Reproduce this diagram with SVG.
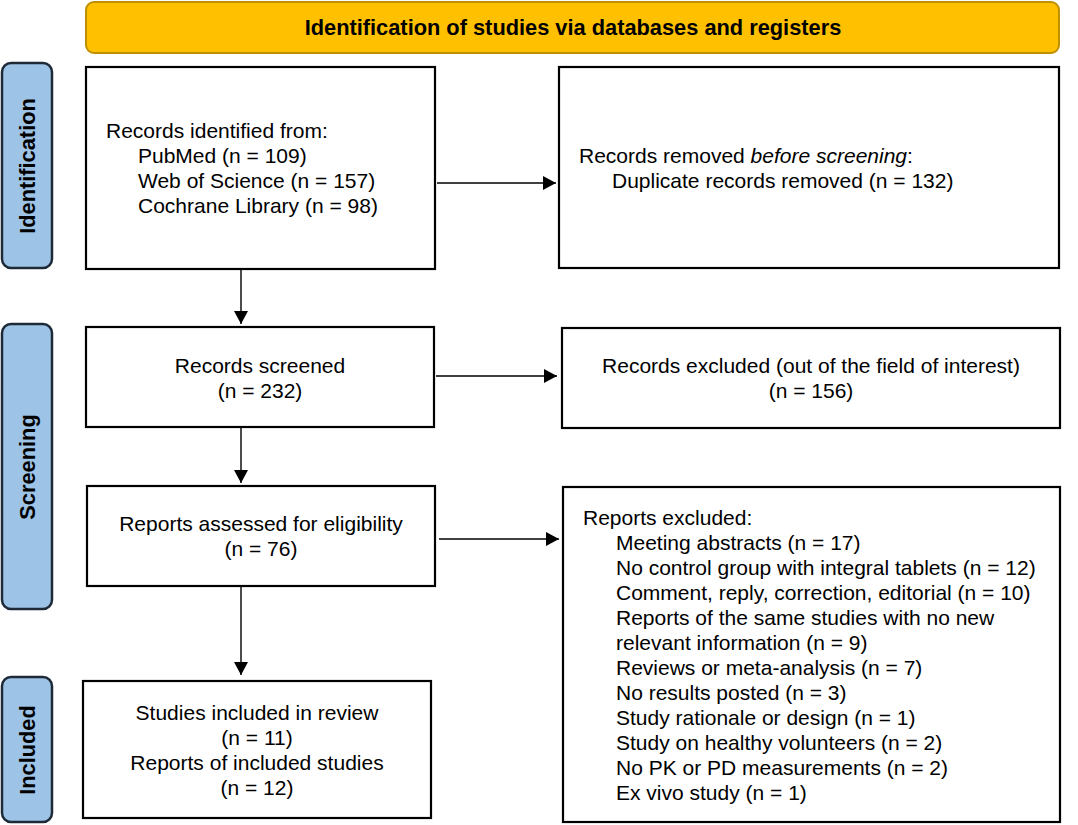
<svg xmlns="http://www.w3.org/2000/svg" width="1078" height="825" viewBox="0 0 1078 825">
<style>
.box{fill:#fff;stroke:#000;stroke-width:2.2}
.t{font-family:"Liberation Sans",Arial,sans-serif;font-size:21px;fill:#000}
.c{text-anchor:middle}
.b{font-weight:bold;font-size:21.8px}
.side{fill:#9DC3E6;stroke:#1E2A38;stroke-width:2.5}
.ban{fill:#FFC000;stroke:#BF9000;stroke-width:2}
.ln{stroke:#000;stroke-width:1.4;fill:none}
</style>
<defs>
<marker id="ah" markerUnits="userSpaceOnUse" markerWidth="15" markerHeight="15" refX="13" refY="7" orient="auto">
<path d="M0,0 L13,7 L0,14 z" fill="#000"/>
</marker>
</defs>
<g id="banner">
<rect class="ban" x="86" y="2" width="973" height="51" rx="8"/>
<text class="t b c" x="573" y="35">Identification of studies via databases and registers</text>
</g>
<g id="side-identification">
<rect class="side" x="2" y="63" width="50" height="205" rx="9"/>
<text class="t b c" transform="translate(35,166) rotate(-90)">Identification</text>
</g>
<g id="side-screening">
<rect class="side" x="2" y="324" width="50" height="285" rx="9"/>
<text class="t b c" transform="translate(35,467) rotate(-90)">Screening</text>
</g>
<g id="side-included">
<rect class="side" x="2" y="677" width="50" height="145" rx="9"/>
<text class="t b c" transform="translate(35,750) rotate(-90)">Included</text>
</g>
<g id="n-identified">
<rect class="box" x="86" y="67" width="349" height="202"/>
<text class="t" x="106" y="138">Records identified from:</text>
<text class="t" x="138" y="163">PubMed (n = 109)</text>
<text class="t" x="138" y="188">Web of Science (n = 157)</text>
<text class="t" x="138" y="213">Cochrane Library (n = 98)</text>
</g>
<g id="n-removed">
<rect class="box" x="559" y="67" width="500" height="201"/>
<text class="t" x="579" y="163">Records removed <tspan font-style="italic">before screening</tspan>:</text>
<text class="t" x="612" y="188">Duplicate records removed (n = 132)</text>
</g>
<g id="n-screened">
<rect class="box" x="86" y="327" width="348" height="100"/>
<text class="t c" x="260" y="373">Records screened</text>
<text class="t c" x="260" y="398">(n = 232)</text>
</g>
<g id="n-excluded-records">
<rect class="box" x="562" y="328" width="498" height="100"/>
<text class="t c" x="811" y="373">Records excluded (out of the field of interest)</text>
<text class="t c" x="811" y="398">(n = 156)</text>
</g>
<g id="n-assessed">
<rect class="box" x="87" y="486" width="348" height="100"/>
<text class="t c" x="261" y="531">Reports assessed for eligibility</text>
<text class="t c" x="261" y="556">(n = 76)</text>
</g>
<g id="n-excluded-reports">
<rect class="box" x="563" y="487" width="497" height="335"/>
<text class="t" x="583" y="525">Reports excluded:</text>
<text class="t" x="616" y="550">Meeting abstracts (n = 17)</text>
<text class="t" x="616" y="575">No control group with integral tablets (n = 12)</text>
<text class="t" x="616" y="600">Comment, reply, correction, editorial (n = 10)</text>
<text class="t" x="616" y="625">Reports of the same studies with no new</text>
<text class="t" x="616" y="650">relevant information (n = 9)</text>
<text class="t" x="616" y="675">Reviews or meta-analysis (n = 7)</text>
<text class="t" x="616" y="700">No results posted (n = 3)</text>
<text class="t" x="616" y="725">Study rationale or design (n = 1)</text>
<text class="t" x="616" y="750">Study on healthy volunteers (n = 2)</text>
<text class="t" x="616" y="775">No PK or PD measurements (n = 2)</text>
<text class="t" x="616" y="800">Ex vivo study (n = 1)</text>
</g>
<g id="n-included">
<rect class="box" x="83" y="681" width="348" height="137"/>
<text class="t c" x="257" y="720">Studies included in review</text>
<text class="t c" x="257" y="745">(n = 11)</text>
<text class="t c" x="257" y="770">Reports of included studies</text>
<text class="t c" x="257" y="795">(n = 12)</text>
</g>
<g id="connectors">
<line class="ln" x1="437" y1="183" x2="556" y2="183" marker-end="url(#ah)"/>
<line class="ln" x1="241" y1="270" x2="241" y2="324" marker-end="url(#ah)"/>
<line class="ln" x1="436" y1="376" x2="557" y2="376" marker-end="url(#ah)"/>
<line class="ln" x1="241" y1="428" x2="241" y2="483" marker-end="url(#ah)"/>
<line class="ln" x1="439" y1="539" x2="559" y2="539" marker-end="url(#ah)"/>
<line class="ln" x1="241" y1="587" x2="241" y2="675" marker-end="url(#ah)"/>
</g>
</svg>
